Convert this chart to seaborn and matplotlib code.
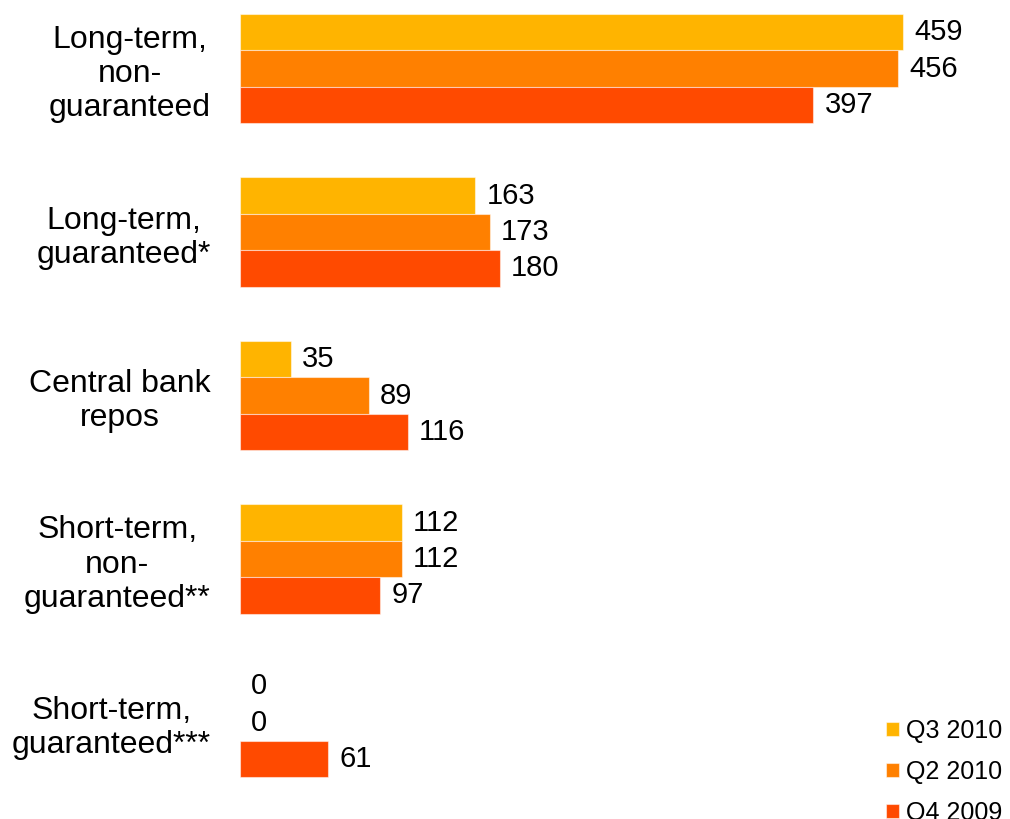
import matplotlib
matplotlib.use("Agg")
import matplotlib.pyplot as plt
import seaborn as sns
import pandas as pd

categories = [
    "Long-term,\nnon-\nguaranteed",
    "Long-term,\nguaranteed*",
    "Central bank\nrepos",
    "Short-term,\nnon-\nguaranteed**",
    "Short-term,\nguaranteed***",
]
series_names = ["Q3 2010", "Q2 2010", "Q4 2009"]
q3_2010 = [459, 163, 35, 112, 0]
q2_2010 = [456, 173, 89, 112, 0]
q4_2009 = [397, 180, 116, 97, 61]
colors = ["#FFB400", "#FF8000", "#FF4A00"]

rows = []
for name, vals in zip(series_names, [q3_2010, q2_2010, q4_2009]):
    for cat, v in zip(categories, vals):
        rows.append({"category": cat, "period": name, "value": v})
df = pd.DataFrame(rows)

sns.set_theme(style="white")
plt.rcParams["font.family"] = ["Liberation Sans", "DejaVu Sans"]
plt.rcParams["text.color"] = "black"
plt.rcParams["ytick.color"] = "black"

fig = plt.figure(figsize=(10.10, 8.19), dpi=100)
ax = fig.add_axes([240 / 1010, 0.0, (1010 - 240) / 1010, 1.0])

sns.barplot(
    data=df, y="category", x="value", hue="period",
    order=categories, hue_order=series_names,
    palette=colors, saturation=1, orient="h", width=0.667,
    edgecolor=(1, 1, 1, 0.5), linewidth=0.8,
    errorbar=None, ax=ax, legend=True,
)

for container in ax.containers:
    ax.bar_label(container, fmt="%d", padding=8, fontsize=21, color="black")

ax.set_xlim(0, (1010 - 240) / 1.444)
ax.set_ylim(4.590, -0.419)
ax.set_xlabel("")
ax.set_ylabel("")
ax.set_xticks([])
for s in ax.spines.values():
    s.set_visible(False)
ax.tick_params(axis="y", length=0, pad=21, labelsize=23, labelcolor="black")
for lbl in ax.get_yticklabels():
    lbl.set_multialignment("center")
    lbl.set_linespacing(1.18)

handles, labels = ax.get_legend_handles_labels()
leg = ax.legend(
    handles, labels, loc="upper left", bbox_to_anchor=(886 / 1010, 1 - 719 / 819),
    bbox_transform=fig.transFigure, frameon=False, fontsize=18,
    handlelength=0.5, handleheight=0.5, handletextpad=0.3,
    labelspacing=0.68, borderpad=0.0, borderaxespad=0.0,
)
for t in leg.get_texts():
    t.set_color("black")

fig.savefig("out.png", dpi=100)
